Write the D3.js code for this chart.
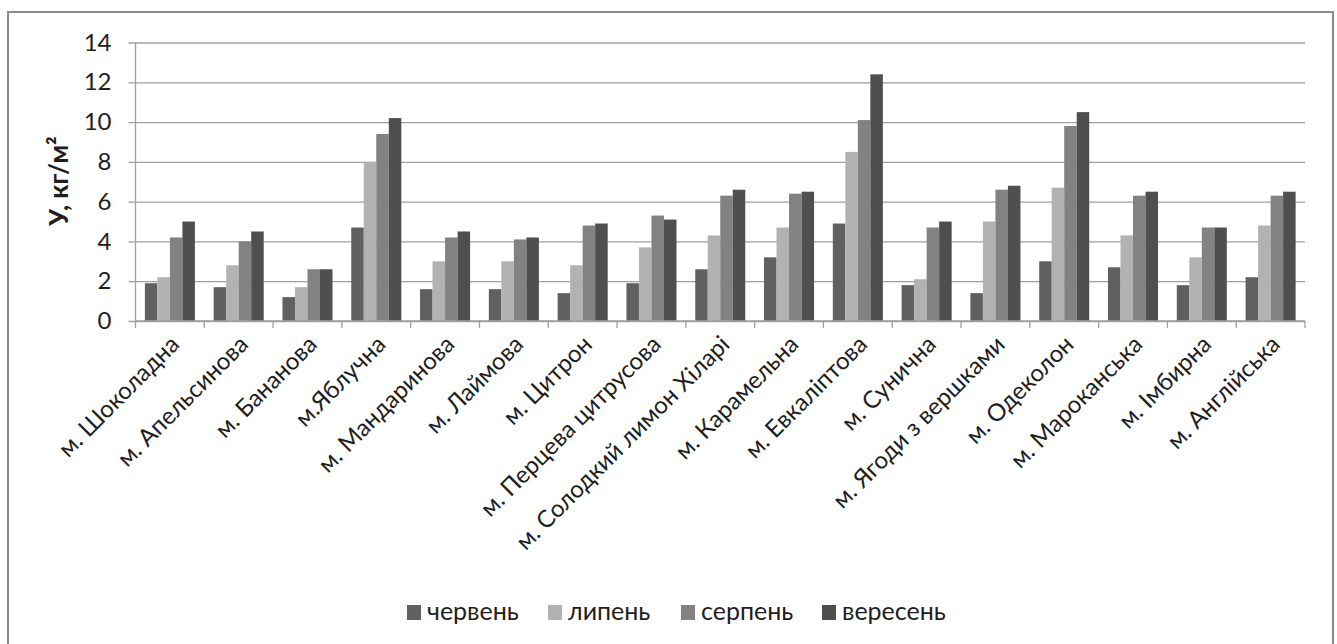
<!DOCTYPE html>
<html lang="uk">
<head>
<meta charset="utf-8">
<script src="https://cdn.jsdelivr.net/npm/d3@7"></script>
<style>
  html, body { margin: 0; padding: 0; background: #fff; }
  svg { display: block; }
  text { font-family: Lato, "Open Sans", "Noto Sans", sans-serif; fill: #1e1e1e; }
</style>
</head>
<body>
<svg id="chart" width="1337" height="644"></svg>
<script>
// Mint varieties (categories along the x axis)
const categories = [
  "м. Шоколадна", "м. Апельсинова", "м. Бананова", "м.Яблучна",
  "м. Мандаринова", "м. Лаймова", "м. Цитрон", "м. Перцева цитрусова",
  "м. Солодкий лимон Хіларі", "м. Карамельна", "м. Евкаліптова",
  "м. Сунична", "м. Ягоди з вершками", "м. Одеколон", "м. Мароканська",
  "м. Імбирна", "м. Англійська"
];

// Months (series) and their yields, kg/m²
const seriesNames = ["червень", "липень", "серпень", "вересень"];
const june      = [1.9, 1.7, 1.2, 4.7, 1.6, 1.6, 1.4, 1.9, 2.6, 3.2, 4.9, 1.8, 1.4, 3.0, 2.7, 1.8, 2.2];
const july      = [2.2, 2.8, 1.7, 8.0, 3.0, 3.0, 2.8, 3.7, 4.3, 4.7, 8.5, 2.1, 5.0, 6.7, 4.3, 3.2, 4.8];
const august    = [4.2, 4.0, 2.6, 9.4, 4.2, 4.1, 4.8, 5.3, 6.3, 6.4, 10.1, 4.7, 6.6, 9.8, 6.3, 4.7, 6.3];
const september = [5.0, 4.5, 2.6, 10.2, 4.5, 4.2, 4.9, 5.1, 6.6, 6.5, 12.4, 5.0, 6.8, 10.5, 6.5, 4.7, 6.5];
const seriesValues = [june, july, august, september];

const yTicks = [0, 2, 4, 6, 8, 10, 12, 14];
const yTitle = "У, кг/м²";

const colors = ["#606060", "#b2b2b2", "#828282", "#4f4f4f"];

const svg = d3.select("#chart");

// Outer chart frame
svg.append("rect")
  .attr("x", 8).attr("y", 12)
  .attr("width", 1325).attr("height", 650)
  .attr("fill", "#fff")
  .attr("stroke", "#8a8a8a")
  .attr("stroke-width", 2);

const plot = { left: 135.5, right: 1305, top: 42.5, bottom: 321 };

const x = d3.scaleBand()
  .domain(categories)
  .range([plot.left, plot.right])
  .padding(0);

const y = d3.scaleLinear()
  .domain([0, 14])
  .range([plot.bottom, plot.top]);

// Gap width 150%: each group holds 4 bars plus 1.5 bar widths of spacing
const barW = x.bandwidth() / 5.5;
const x1 = d3.scaleBand()
  .domain(d3.range(seriesNames.length))
  .range([0.75 * barW, 0.75 * barW + 4 * barW])
  .padding(0);

// Horizontal gridlines with small ticks on the left
const yAxis = d3.axisLeft(y)
  .tickValues(yTicks)
  .tickSize(-(plot.right - plot.left + 7))
  .tickPadding(18)
  .tickFormat(d3.format("d"));

const gy = svg.append("g")
  .attr("transform", `translate(${plot.left - 7},0)`)
  .call(yAxis);
gy.select(".domain").remove();
gy.selectAll(".tick line")
  .attr("stroke", "#a0a0a0")
  .attr("stroke-width", 1.3);
gy.selectAll(".tick text")
  .attr("x", -17)
  .style("font-size", "24px")
  .style("fill", "#1e1e1e");

// Vertical axis line
svg.append("line")
  .attr("x1", plot.left).attr("x2", plot.left)
  .attr("y1", plot.top).attr("y2", plot.bottom)
  .attr("stroke", "#a0a0a0")
  .attr("stroke-width", 1.3);

// Bars
const groups = svg.append("g")
  .selectAll("g")
  .data(categories)
  .join("g")
  .attr("transform", d => `translate(${x(d)},0)`);

groups.selectAll("rect")
  .data((d, i) => seriesValues.map((vals, s) => ({ s, v: vals[i] })))
  .join("rect")
  .attr("x", d => x1(d.s))
  .attr("width", x1.bandwidth())
  .attr("y", d => y(d.v))
  .attr("height", d => y(0) - y(d.v))
  .attr("fill", d => colors[d.s]);

// Category axis with boundary ticks
const xAxisLine = svg.append("g");
xAxisLine.append("line")
  .attr("x1", plot.left).attr("x2", plot.right)
  .attr("y1", plot.bottom).attr("y2", plot.bottom)
  .attr("stroke", "#a0a0a0")
  .attr("stroke-width", 1.3);
const bounds = categories.map(c => x(c)).concat([plot.right]);
xAxisLine.selectAll("line.tk")
  .data(bounds)
  .join("line")
  .attr("class", "tk")
  .attr("x1", d => d).attr("x2", d => d)
  .attr("y1", plot.bottom).attr("y2", plot.bottom + 7)
  .attr("stroke", "#a0a0a0")
  .attr("stroke-width", 1.3);

// Rotated category labels
svg.append("g")
  .selectAll("text")
  .data(categories)
  .join("text")
  .attr("transform", d => `translate(${x(d) + x.bandwidth() / 2 - 1},${plot.bottom + 13}) rotate(-45)`)
  .attr("text-anchor", "end")
  .attr("dy", "0.7em")
  .style("font-size", "24px")
  .text(d => d);

// Y axis title
svg.append("text")
  .attr("transform", `translate(68,181) rotate(-90)`)
  .attr("text-anchor", "middle")
  .style("font-size", "26px")
  .style("font-weight", "bold")
  .text(yTitle);

// Legend
const legendX = [407, 548, 681, 822];
const legend = svg.append("g")
  .selectAll("g")
  .data(seriesNames)
  .join("g")
  .attr("transform", (d, i) => `translate(${legendX[i]},605)`);
legend.append("rect")
  .attr("width", 14).attr("height", 15)
  .attr("fill", (d, i) => colors[i]);
legend.append("text")
  .attr("x", 20).attr("y", 15)
  .style("font-size", "25px")
  .text(d => d);
</script>
</body>
</html>
